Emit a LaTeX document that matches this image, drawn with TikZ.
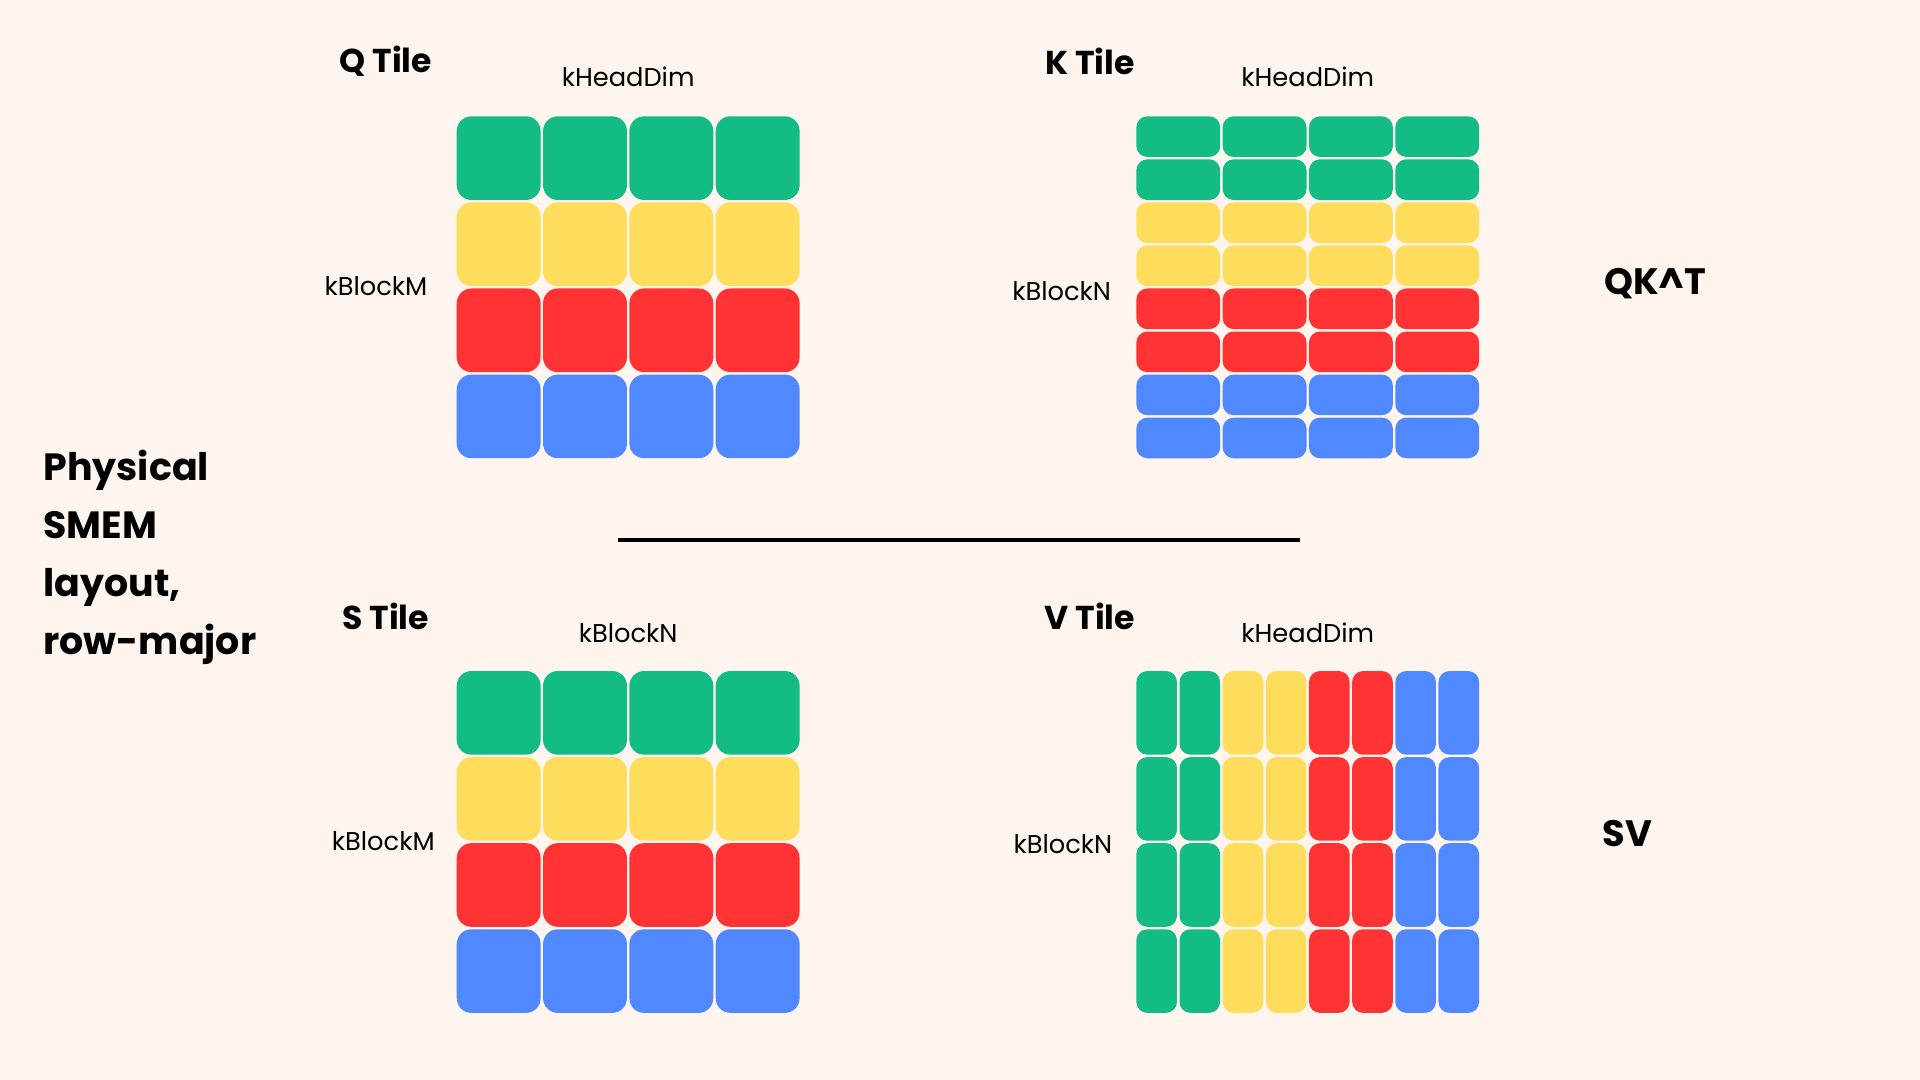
\documentclass[tikz,border=0pt]{standalone}
\usepackage{fontspec}
\setmainfont{Poppins}
\definecolor{bgcol}{HTML}{FEF5EF}
\definecolor{cgreen}{HTML}{12BC84}
\definecolor{cyellow}{HTML}{FFDD5C}
\definecolor{cred}{HTML}{FF3333}
\definecolor{cblue}{HTML}{4F88FF}
\tikzset{
        cell/.style = {rounded corners=#1},
        dimlabel/.style = {font=\fontsize{21}{25}\selectfont},
        tiletitle/.style = {font=\fontsize{27}{32}\bfseries\selectfont},
        oplabel/.style = {font=\fontsize{30}{36}\bfseries\selectfont},
    }
\begin{document}
\begin{tikzpicture}[x=1pt,y=-1pt]
\fill[bgcol] (0,0) rectangle (1568,882);
\useasboundingbox (0,0) rectangle (1568,882);

% Q and S tiles, one colour per row
\foreach \y in {94,547}{
  \foreach \c [count=\r from 0] in {cgreen,cyellow,cred,cblue}{
    \foreach \k in {0,...,3}{
      \fill[\c,cell=12pt] ({372+\k*70.5+1},{\y+\r*70.3+1}) rectangle ++(68.5,68.3);
    }
  }
}
% K tile, two rows per colour
\foreach \c [count=\r from 0] in {cgreen,cgreen,cyellow,cyellow,cred,cred,cblue,cblue}{
  \foreach \k in {0,...,3}{
    \fill[\c,cell=9pt] ({927+\k*70.5+1},{94+\r*35.15+1}) rectangle ++(68.5,33.2);
  }
}
% V tile, two columns per colour
\foreach \c [count=\k from 0] in {cgreen,cgreen,cyellow,cyellow,cred,cred,cblue,cblue}{
  \foreach \r in {0,...,3}{
    \fill[\c,cell=9pt] ({927+\k*35.25+1},{547+\r*70.3+1}) rectangle ++(33.2,68.3);
  }
}

% separator
\coordinate (sepL) at (505,441);
\coordinate (sepR) at (1062,441);
\draw[line width=3pt] (sepL) -- (sepR);

% Text Node
\node[tiletitle] (qtitle) at (315,50) {Q Tile};
\node[tiletitle] (ktitle) at (890,50) {K Tile};
\node[tiletitle] (stitle) at (315,503) {S Tile};
\node[tiletitle] (vtitle) at (890,503) {V Tile};
\node[dimlabel] (qcols) at (513,63) {kHeadDim};
\node[dimlabel] (kcols) at (1068,63) {kHeadDim};
\node[dimlabel] (scols) at (513,517) {kBlockN};
\node[dimlabel] (vcols) at (1068,517) {kHeadDim};
\node[dimlabel] (qrows) at (307,234) {kBlockM};
\node[dimlabel] (krows) at (867,238) {kBlockN};
\node[dimlabel] (srows) at (313,687) {kBlockM};
\node[dimlabel] (vrows) at (868,689) {kBlockN};
\node[oplabel] (qkt) at (1352,232) {QK\^{}T};
\node[oplabel] (sv) at (1329,681) {SV};
\node[oplabel, anchor=west, align=left, font=\fontsize{31}{47.5}\bfseries\selectfont] (phys) at (32,455)
  {Physical\\SMEM\\layout,\\row-major};
\end{tikzpicture}
\end{document}
